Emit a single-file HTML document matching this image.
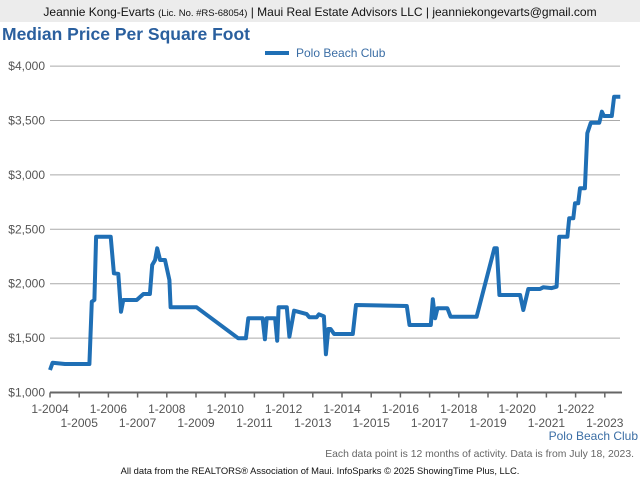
<!DOCTYPE html>
<html><head><meta charset="utf-8"><style>
body{margin:0;width:640px;height:480px;background:#fff;font-family:"Liberation Sans",sans-serif;overflow:hidden}
</style></head><body>
<svg id="chart" width="640" height="480" xmlns="http://www.w3.org/2000/svg" font-family="Liberation Sans, sans-serif">
<rect x="0" y="0" width="640" height="22" fill="#ececec"/>
<text x="320" y="16" text-anchor="middle" font-size="12" fill="#111">Jeannie Kong-Evarts <tspan font-size="9.5">(Lic. No. #RS-68054)</tspan> | Maui Real Estate Advisors LLC | jeanniekongevarts@gmail.com</text>
<text x="2" y="40" font-size="17.5" font-weight="bold" fill="#2a5f9e">Median Price Per Square Foot</text>
<line x1="265" y1="53" x2="289" y2="53" stroke="#1f6fb5" stroke-width="4"/>
<text x="296" y="57" font-size="12" fill="#3b6ea5">Polo Beach Club</text>
<g id="grid"></g><g id="xaxis"></g>
<path id="line" fill="none" stroke="#1f6fb5" stroke-width="4" stroke-linejoin="round"/>
<text x="638" y="440" text-anchor="end" font-size="12" fill="#3b6ea5">Polo Beach Club</text>
<text x="634" y="457" text-anchor="end" font-size="10.4" fill="#666">Each data point is 12 months of activity. Data is from July 18, 2023.</text>
<text x="320" y="474" text-anchor="middle" font-size="9.4" fill="#111">All data from the REALTORS® Association of Maui. InfoSparks © 2025 ShowingTime Plus, LLC.</text>
</svg>
<script>
const yTicks=[1000,1500,2000,2500,3000,3500,4000];
const xYears=[2004,2005,2006,2007,2008,2009,2010,2011,2012,2013,2014,2015,2016,2017,2018,2019,2020,2021,2022,2023];
const dates=[2004.00,2004.09,2004.51,2005.35,2005.43,2005.52,2005.58,2006.08,2006.19,2006.34,2006.43,2006.51,2006.97,2007.20,2007.42,2007.50,2007.60,2007.67,2007.77,2007.94,2008.09,2008.13,2009.02,2010.45,2010.71,2010.79,2011.28,2011.36,2011.42,2011.71,2011.78,2011.83,2012.11,2012.20,2012.36,2012.79,2012.88,2013.13,2013.21,2013.38,2013.45,2013.53,2013.61,2013.73,2013.93,2014.37,2014.48,2016.22,2016.31,2017.04,2017.11,2017.19,2017.27,2017.61,2017.72,2018.61,2019.22,2019.30,2019.39,2020.10,2020.21,2020.38,2020.78,2020.89,2021.18,2021.35,2021.44,2021.72,2021.78,2021.92,2021.98,2022.09,2022.15,2022.32,2022.40,2022.52,2022.81,2022.90,2022.97,2023.24,2023.32,2023.53];
const values=[1207,1274,1262,1262,1835,1850,2432,2432,2096,2090,1743,1850,1850,1905,1905,2172,2218,2325,2218,2218,2034,1783,1783,1498,1498,1682,1682,1489,1682,1682,1476,1783,1783,1513,1752,1721,1691,1691,1719,1700,1351,1584,1584,1538,1538,1538,1804,1795,1620,1620,1857,1682,1774,1774,1697,1697,2325,2325,1896,1896,1758,1951,1951,1967,1960,1972,2432,2432,2601,2601,2739,2739,2877,2877,3382,3480,3480,3581,3541,3541,3719,3719];
const X0=50,XPY=29.2,Y0=392.5,YPU=54.4/500;
const sx=t=>X0+(t-2004)*XPY, sy=v=>Y0-(v-1000)*YPU;
const NS="http://www.w3.org/2000/svg";
const grid=document.getElementById('grid'), xa=document.getElementById('xaxis');
yTicks.forEach(v=>{
 if(v>1000){const l=document.createElementNS(NS,'line');
 l.setAttribute('x1',50);l.setAttribute('x2',620);l.setAttribute('y1',sy(v));l.setAttribute('y2',sy(v));
 l.setAttribute('stroke','#aaa');l.setAttribute('stroke-width','1');
 
 grid.appendChild(l);}
 const t=document.createElementNS(NS,'text');
 t.setAttribute('x',45);t.setAttribute('y',sy(v)+4);t.setAttribute('text-anchor','end');
 t.setAttribute('font-size','12');t.setAttribute('fill','#555');t.textContent='$'+v.toLocaleString('en-US');
 
 grid.appendChild(t);
});
const ax=document.createElementNS(NS,'line');
ax.setAttribute('x1',50);ax.setAttribute('x2',622);ax.setAttribute('y1',Y0);ax.setAttribute('y2',Y0);
ax.setAttribute('stroke','#666');ax.setAttribute('stroke-width','2');

xa.appendChild(ax);
xYears.forEach((y,i)=>{
 const x=sx(y);
 const tk=document.createElementNS(NS,'line');
 tk.setAttribute('x1',x);tk.setAttribute('x2',x);tk.setAttribute('y1',Y0);tk.setAttribute('y2',Y0+5);
 tk.setAttribute('stroke','#666');tk.setAttribute('stroke-width','1.5');
 
 xa.appendChild(tk);
 const t=document.createElementNS(NS,'text');
 t.setAttribute('x',x);t.setAttribute('y',i%2?427:413);t.setAttribute('text-anchor','middle');
 t.setAttribute('font-size','12');t.setAttribute('fill','#555');t.textContent='1-'+y;
 
 xa.appendChild(t);
});
document.getElementById('line').setAttribute('d',dates.map((d,i)=>(i?'L':'M')+sx(d).toFixed(1)+' '+sy(values[i]).toFixed(1)).join(' '));
</script>
</body></html>
